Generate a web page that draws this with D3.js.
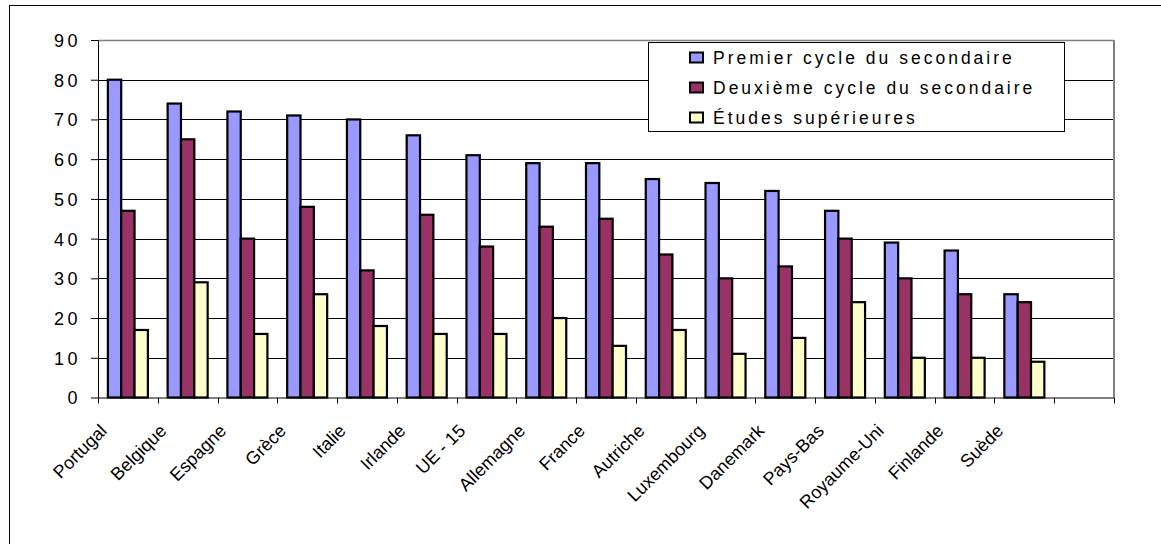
<!DOCTYPE html>
<html>
<head>
<meta charset="utf-8">
<script src="https://cdn.jsdelivr.net/npm/d3@7"></script>
<style>
  html, body { margin: 0; padding: 0; background: #fff; }
  svg { display: block; }
  text { font-family: "Liberation Sans", Arial, sans-serif; fill: #000; }
</style>
</head>
<body>
<svg id="chart" width="1161" height="544"></svg>
<script>
const categories = ["Portugal", "Belgique", "Espagne", "Grèce", "Italie", "Irlande", "UE - 15",
  "Allemagne", "France", "Autriche", "Luxembourg", "Danemark", "Pays-Bas", "Royaume-Uni",
  "Finlande", "Suède", ""];
const seriesNames = ["Premier cycle du secondaire", "Deuxième cycle du secondaire", "Études supérieures"];
const premier  = [80, 74, 72, 71, 70, 66, 61, 59, 59, 55, 54, 52, 47, 39, 37, 26];
const deuxieme = [47, 65, 40, 48, 32, 46, 38, 43, 45, 36, 30, 33, 40, 30, 26, 24];
const etudes   = [17, 29, 16, 26, 18, 16, 16, 20, 13, 17, 11, 15, 24, 10, 10, 9];
const yTicks = [0, 10, 20, 30, 40, 50, 60, 70, 80, 90];
const colors = ["#9999FF", "#993366", "#FFFFCC"];

(function () {
const seriesValues = [premier, deuxieme, etudes];
const svg = d3.select("#chart");

// outer frame (only left/top visible)
svg.append("rect").attr("x", 9.5).attr("y", 5.5).attr("width", 1300).attr("height", 700)
  .attr("fill", "none").attr("stroke", "#000").attr("stroke-width", 1);

const pLeft = 98, pRight = 1114, pTop = 40, pBottom = 397.5;
const x0 = d3.scaleBand().domain(categories.map((c, i) => i)).range([pLeft, pRight]).paddingInner(0).paddingOuter(0);
const x1 = d3.scaleBand().domain([0, 1, 2]).range([0, x0.bandwidth()]).paddingInner(0).paddingOuter(0.74);
const y = d3.scaleLinear().domain([0, 90]).range([pBottom, pTop]);

// gridlines
svg.append("g").selectAll("line").data(yTicks.filter(t => t > 0 && t < 90)).join("line")
  .attr("x1", pLeft).attr("x2", pRight)
  .attr("y1", d => Math.round(y(d)) + 0.5).attr("y2", d => Math.round(y(d)) + 0.5)
  .attr("stroke", "#000").attr("stroke-width", 1);

// plot border top and right (gray)
svg.append("line").attr("x1", pLeft).attr("x2", pRight).attr("y1", pTop + 0.5).attr("y2", pTop + 0.5)
  .attr("stroke", "#808080").attr("stroke-width", 1.5);
svg.append("line").attr("x1", pRight).attr("x2", pRight).attr("y1", pTop).attr("y2", pBottom)
  .attr("stroke", "#808080").attr("stroke-width", 2);

// bars
const rows = categories.slice(0, premier.length).map((c, i) => ({ i, vals: seriesValues.map(s => s[i]) }));
const groups = svg.append("g").selectAll("g").data(rows).join("g")
  .attr("transform", d => `translate(${x0(d.i)},0)`);
groups.selectAll("rect").data(d => d.vals.map((v, k) => ({ v, k }))).join("rect")
  .attr("x", d => x1(d.k))
  .attr("y", d => y(d.v))
  .attr("width", x1.bandwidth())
  .attr("height", d => pBottom - y(d.v))
  .attr("fill", d => colors[d.k])
  .attr("stroke", "#000").attr("stroke-width", 2.2);

// y axis
const yAxis = svg.append("g").attr("transform", `translate(${pLeft},0)`)
  .call(d3.axisLeft(y).tickValues(yTicks).tickSize(7).tickSizeOuter(0).tickPadding(0));
yAxis.select(".domain").attr("stroke", "#000").attr("stroke-width", 1);
yAxis.selectAll(".tick line").attr("stroke", "#000");
yAxis.selectAll(".tick text")
  .attr("x", -17).attr("dy", "0.36em")
  .style("font-size", "18px").style("letter-spacing", "3.5px")
  .style("font-family", '"Liberation Sans", Arial, sans-serif');

// x axis line + boundary ticks
const boundaries = categories.map((c, i) => x0(i)).concat([pRight]);
svg.append("line").attr("x1", pLeft).attr("x2", pRight).attr("y1", pBottom + 0.5).attr("y2", pBottom + 0.5)
  .attr("stroke", "#000").attr("stroke-width", 1);
svg.append("g").selectAll("line").data(boundaries).join("line")
  .attr("x1", d => Math.round(d) + 0.5).attr("x2", d => Math.round(d) + 0.5)
  .attr("y1", pBottom).attr("y2", pBottom + 6)
  .attr("stroke", "#000").attr("stroke-width", 1);

// category labels
svg.append("g").selectAll("text").data(categories.map((c, i) => ({ c, i })).filter(d => d.c)).join("text")
  .attr("transform", d => `translate(${x0(d.i) + x0.bandwidth() / 2 - 20},432) rotate(-45)`)
  .attr("text-anchor", "end")
  .style("font-size", "18px")
  .text(d => d.c);

// legend
const lg = svg.append("g");
lg.append("rect").attr("x", 648.5).attr("y", 42.5).attr("width", 416).attr("height", 89)
  .attr("fill", "#fff").attr("stroke", "#000").attr("stroke-width", 1);
const items = lg.selectAll("g.item").data(seriesNames).join("g").attr("class", "item")
  .attr("transform", (d, i) => `translate(0,${i * 30})`);
items.append("rect").attr("x", 690).attr("y", 52.5).attr("width", 13).attr("height", 10)
  .attr("fill", (d, i) => colors[i]).attr("stroke", "#000").attr("stroke-width", 2);
items.append("text").attr("x", 713).attr("y", 64)
  .style("font-size", "17.5px").style("letter-spacing", "3px")
  .text(d => d);
})();
</script>
</body>
</html>
